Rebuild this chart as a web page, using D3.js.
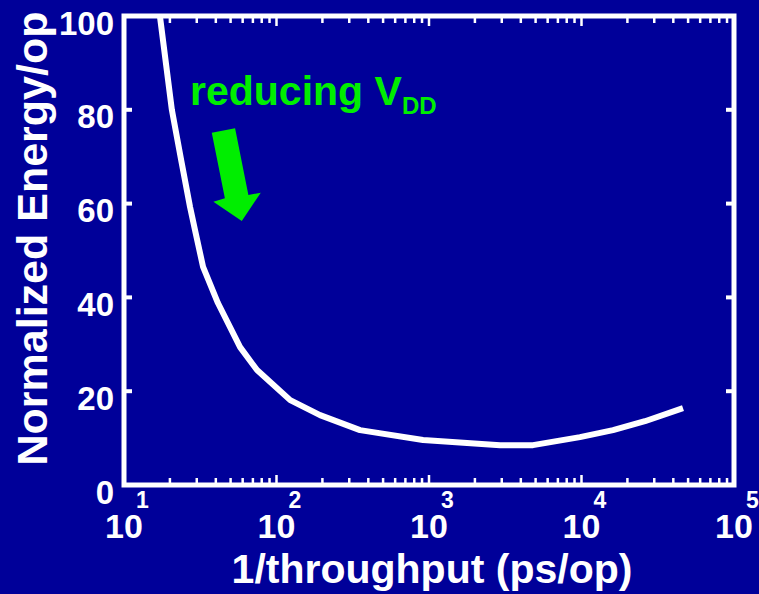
<!DOCTYPE html>
<html>
<head>
<meta charset="utf-8">
<script src="https://cdn.jsdelivr.net/npm/d3@7"></script>
<style>
  html, body { margin: 0; padding: 0; background: #000099; }
  svg { display: block; }
  text { font-family: "Liberation Sans", Arial, sans-serif; font-weight: bold; }
</style>
</head>
<body>
<script>
// ---- data ----
const throughputPs = [17.2, 20.6, 23.7, 27.1, 29.2, 33.0, 41.3, 57.7, 74.5, 123, 193, 353, 914, 2924, 4809, 9770, 16100, 26060, 46300];
const energyPerOp  = [100, 80.0, 69.3, 59.3, 54.4, 46.5, 38.8, 29.4, 24.5, 18.1, 14.9, 11.7, 9.6, 8.5, 8.5, 10.2, 11.7, 13.6, 16.4];
const xTickExponents = [1, 2, 3, 4, 5];
const yTickValues = [0, 20, 40, 60, 80, 100];
const xLabel = "1/throughput (ps/op)";
const yLabel = "Normalized Energy/op";
const annotationText = "reducing V";
const annotationSub = "DD";

// ---- layout ----
const W = 759, H = 594;
const mLeft = 124, mRight = 734, mTop = 16, mBottom = 485;
const bg = "#000099", fg = "#ffffff", green = "#00ee00";

const svg = d3.select("body").append("svg").attr("width", W).attr("height", H);
svg.append("rect").attr("width", W).attr("height", H).attr("fill", bg);

const x = d3.scaleLog().domain([10, 1e5]).range([mLeft, mRight]);
const y = d3.scaleLinear().domain([0, 100]).range([mBottom, mTop]);

// clip
svg.append("clipPath").attr("id", "clip").append("rect")
  .attr("x", mLeft).attr("y", mTop).attr("width", mRight - mLeft).attr("height", mBottom - mTop);

// minor/major x ticks (inside, bottom and top)
const minorX = [];
for (let e = 1; e < 5; e++) for (let m = 2; m <= 9; m++) minorX.push(m * Math.pow(10, e));
const tickG = svg.append("g").attr("stroke", fg).attr("stroke-width", 2.5);
minorX.forEach(v => {
  tickG.append("line").attr("x1", x(v)).attr("x2", x(v)).attr("y1", mBottom).attr("y2", mBottom - 7);
  tickG.append("line").attr("x1", x(v)).attr("x2", x(v)).attr("y1", mTop).attr("y2", mTop + 7);
});
xTickExponents.forEach(e => {
  const v = Math.pow(10, e);
  tickG.append("line").attr("x1", x(v)).attr("x2", x(v)).attr("y1", mBottom).attr("y2", mBottom - 10);
  tickG.append("line").attr("x1", x(v)).attr("x2", x(v)).attr("y1", mTop).attr("y2", mTop + 10);
});
yTickValues.forEach(v => {
  tickG.append("line").attr("x1", mLeft).attr("x2", mLeft + 8).attr("y1", y(v)).attr("y2", y(v)).attr("stroke-width", 4);
  tickG.append("line").attr("x1", mRight).attr("x2", mRight - 8).attr("y1", y(v)).attr("y2", y(v)).attr("stroke-width", 4);
});

// curve
const pts = throughputPs.map((t, i) => [t, energyPerOp[i]]);
svg.append("path")
  .datum(pts)
  .attr("clip-path", "url(#clip)")
  .attr("fill", "none")
  .attr("stroke", fg)
  .attr("stroke-width", 6)
  .attr("stroke-linejoin", "round")
  .attr("d", d3.line().x(d => x(d[0])).y(d => y(d[1])));

// axes box
svg.append("rect")
  .attr("x", mLeft).attr("y", mTop).attr("width", mRight - mLeft).attr("height", mBottom - mTop)
  .attr("fill", "none").attr("stroke", fg).attr("stroke-width", 5);

// y tick labels
svg.append("g").selectAll("text").data(yTickValues).join("text")
  .attr("x", mLeft - 10)
  .attr("y", d => y(d) + 18.5)
  .attr("text-anchor", "end")
  .attr("font-size", 33)
  .attr("fill", fg)
  .text(d => d);

// x tick labels 10^e
const xl = svg.append("g");
xTickExponents.forEach(e => {
  const px = x(Math.pow(10, e));
  xl.append("text").attr("x", px).attr("y", 538).attr("text-anchor", "middle")
    .attr("font-size", 34).attr("fill", fg).text("10");
  xl.append("text").attr("x", px + 12).attr("y", 508).attr("text-anchor", "start")
    .attr("font-size", 23).attr("fill", fg).text(e);
});

// axis labels
svg.append("text")
  .attr("x", (mLeft + mRight) / 2 + 3).attr("y", 583)
  .attr("text-anchor", "middle").attr("font-size", 41).attr("fill", fg)
  .text(xLabel);
svg.append("text")
  .attr("transform", `translate(47, ${(mTop + mBottom) / 2 - 12}) rotate(-90)`)
  .attr("text-anchor", "middle").attr("font-size", 43).attr("fill", fg)
  .text(yLabel);

// annotation
const ann = svg.append("text")
  .attr("x", x(27.1)).attr("y", y(81))
  .attr("font-size", 41).attr("fill", green);
ann.append("tspan").text(annotationText);
ann.append("tspan").attr("font-size", 24).attr("dy", 9).text(annotationSub);

const tipX = x(59.2), tipY = y(56.3);
const arrowShape = [[-30, -88.3], [-6.7, -92.7], [6.6, -26], [19, -28.3], [0, 0], [-28.4, -19.3], [-16.9, -22.7]];
svg.append("polygon")
  .attr("points", arrowShape.map(p => [tipX + p[0], tipY + p[1]].join(",")).join(" "))
  .attr("fill", green);
</script>
</body>
</html>
